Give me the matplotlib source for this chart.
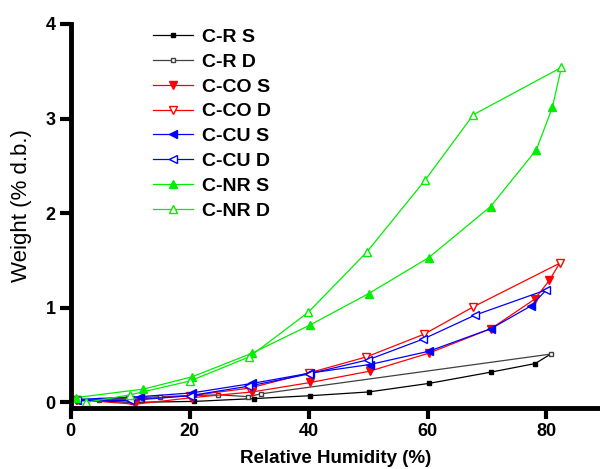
import numpy as np
import matplotlib.pyplot as plt

plt.rcParams['font.family'] = ['Liberation Sans', 'DejaVu Sans']
plt.rcParams['font.weight'] = 'bold'

# sorption (S) and desorption (D) isotherm points
cr_s_x = [1.0, 10.5, 20.8, 30.8, 40.2, 50.1, 60.2, 70.7, 78.1]
cr_s_y = [0.02, 0.0, 0.01, 0.04, 0.07, 0.11, 0.20, 0.32, 0.41]
cr_d_x = [80.7, 32.0, 29.8, 24.8, 15.0, 4.8, 1.0]
cr_d_y = [0.51, 0.09, 0.06, 0.08, 0.06, 0.03, 0.02]

co_s_x = [0.8, 10.8, 20.4, 30.5, 40.3, 50.3, 60.2, 70.7, 78.0, 80.5]
co_s_y = [0.03, -0.02, 0.05, 0.11, 0.21, 0.33, 0.52, 0.78, 1.09, 1.29]
co_d_x = [82.2, 67.7, 59.4, 49.7, 40.0, 30.0, 20.0, 10.0, 1.0]
co_d_y = [1.47, 1.01, 0.72, 0.48, 0.31, 0.15, 0.07, 0.03, 0.03]

cu_s_x = [0.8, 11.6, 20.4, 30.5, 40.3, 50.3, 60.2, 70.7, 77.4]
cu_s_y = [0.03, 0.06, 0.10, 0.20, 0.31, 0.40, 0.54, 0.78, 1.02]
cu_d_x = [80.0, 67.9, 59.3, 50.0, 40.0, 29.8, 20.0, 10.0, 1.0]
cu_d_y = [1.19, 0.92, 0.67, 0.45, 0.30, 0.17, 0.07, 0.02, 0.02]

nr_s_x = [0.8, 12.2, 20.4, 30.5, 40.3, 50.1, 60.2, 70.6, 78.3, 81.0]
nr_s_y = [0.05, 0.14, 0.27, 0.52, 0.82, 1.15, 1.53, 2.07, 2.67, 3.12]
nr_d_x = [82.5, 67.7, 59.6, 49.8, 39.9, 30.0, 20.0, 10.0, 2.6]
nr_d_y = [3.54, 3.04, 2.35, 1.59, 0.95, 0.48, 0.225, 0.08, 0.0]

fig = plt.figure(figsize=(6.0, 4.69), dpi=100)
ax = fig.add_axes([0.118, 0.130, 0.882, 0.819])

series = [
    ('C-R S', cr_s_x, cr_s_y, cr_d_x, cr_d_y, 'black', 's', True, 3.5),
    ('C-R D', cr_d_x, cr_d_y, None, None, '#404040', 's', False, 3.5),
    ('C-CO S', co_s_x, co_s_y, co_d_x, co_d_y, 'red', 'v', True, 6),
    ('C-CO D', co_d_x, co_d_y, None, None, 'red', 'v', False, 6),
    ('C-CU S', cu_s_x, cu_s_y, cu_d_x, cu_d_y, 'blue', '<', True, 6),
    ('C-CU D', cu_d_x, cu_d_y, None, None, 'blue', '<', False, 6),
    ('C-NR S', nr_s_x, nr_s_y, nr_d_x, nr_d_y, '#00ee00', '^', True, 6),
    ('C-NR D', nr_d_x, nr_d_y, None, None, '#00ee00', '^', False, 6),
]

for label, x, y, dx, dy, c, m, filled, ms in series:
    xs, ys = list(x), list(y)
    n = len(xs)
    if dx is not None:
        # sorption curve joins the first desorption point
        xs.append(dx[0])
        ys.append(dy[0])
    ax.plot(xs, ys, color=c, lw=0.9, marker=m, ms=ms, markevery=list(range(n)),
            mfc=c if filled else 'white', mec=c, mew=1.0, label=label)

ax.set_xlim(0, 89)
ax.set_ylim(-0.06, 4)
ax.set_xticks([0, 20, 40, 60, 80])
ax.set_yticks([0, 1, 2, 3, 4])

for s in ['top', 'right']:
    ax.spines[s].set_visible(False)
for s in ['left', 'bottom']:
    ax.spines[s].set_linewidth(3.5)
ax.tick_params(width=3, length=8, labelsize=13, pad=3)

ax.set_xlabel('Relative Humidity (%)', fontsize=13.5, fontweight='bold', labelpad=7)
ax.set_ylabel('Weight (% d.b.)', fontsize=16, fontweight='normal')
ax.yaxis.set_label_coords(-0.074, 0.527)

ax.legend(loc='upper left', bbox_to_anchor=(0.226, 0.977), bbox_transform=fig.transFigure,
          frameon=False, fontsize=14, handlelength=2.06, labelspacing=0.37,
          handletextpad=0.46)

fig.savefig('out.png', dpi=100)
